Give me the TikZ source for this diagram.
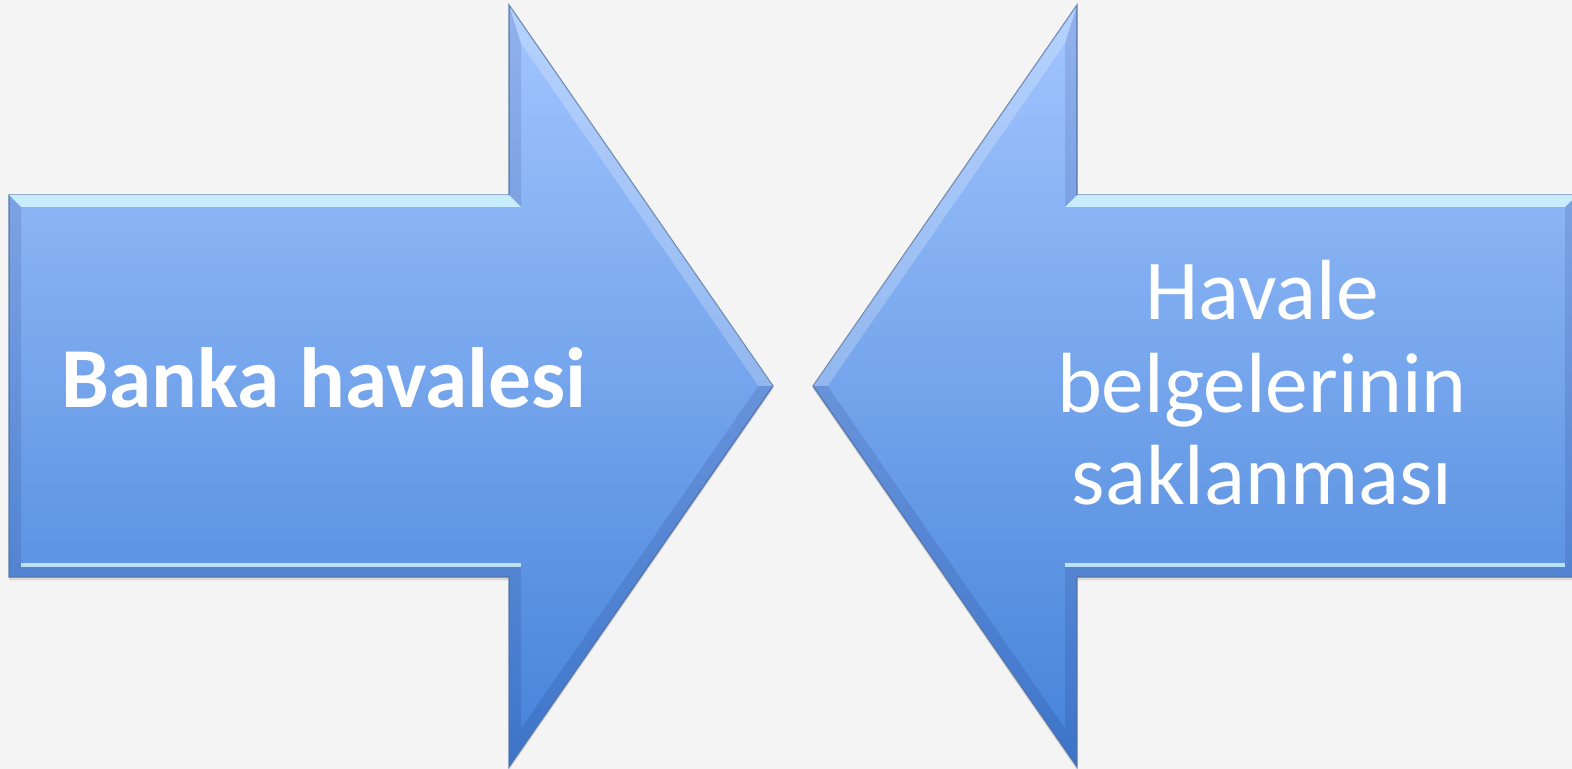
\documentclass[tikz,border=0pt]{standalone}
\usepackage{fontspec}
\setmainfont{Carlito}
\usetikzlibrary{shadows}
\definecolor{pagebg}{HTML}{F4F4F4}
\definecolor{arrowtop}{HTML}{A3C6FF}
\definecolor{arrowbot}{HTML}{4482D8}
\definecolor{arrowrim}{HTML}{5F7FAE}
\definecolor{glint}{HTML}{D4F6FF}
\begin{document}
\begin{tikzpicture}[x=0.5pt, y=-0.5pt,
    face light/.style={fill=glint, fill opacity=0.85},
    face soft/.style={fill=white, fill opacity=0.22},
    face dark/.style={fill=black!70!blue, fill opacity=0.10},
    label text/.style={text=white, inner sep=0pt, font=\fontsize{42.7}{46.25}\selectfont}]
    \useasboundingbox (0,0) rectangle (1572,769);
    \fill[pagebg] (0,0) rectangle (1572,769);
    \clip (0,0) rectangle (1572,769);

    % the right arrow is the left one mirrored
    \foreach \sx/\dx in {1/0, -1/1586} {
      \begin{scope}[shift={(\dx,0)}, xscale=\sx]
        \coordinate (a) at (9,195);   \coordinate (ai) at (21,207);
        \coordinate (b) at (509,195); \coordinate (bi) at (521,207);
        \coordinate (c) at (509,5);   \coordinate (ci) at (521,43.4);
        \coordinate (t) at (773,386); \coordinate (ti) at (758.4,386);
        \coordinate (d) at (509,767); \coordinate (di) at (521,728.6);
        \coordinate (e) at (509,577); \coordinate (ei) at (521,565);
        \coordinate (f) at (9,577);   \coordinate (fi) at (21,565);

        \shade[top color=arrowtop, bottom color=arrowbot, draw=arrowrim, line width=0.6pt,
               drop shadow={shadow xshift=0pt, shadow yshift=-1.5pt, opacity=0.25}]
            (a) -- (b) -- (c) -- (t) -- (d) -- (e) -- (f) -- cycle;

        % bevel
        \fill[face light] (a) -- (b) -- (bi) -- (ai) -- cycle;
        \fill[face dark] (b) -- (c) -- (ci) -- (bi) -- cycle;
        \fill[face soft] (c) -- (t) -- (ti) -- (ci) -- cycle;
        \fill[face dark] (t) -- (d) -- (di) -- (ti) -- cycle;
        \fill[face dark] (d) -- (e) -- (ei) -- (di) -- cycle;
        \fill[face dark] (e) -- (f) -- (fi) -- (ei) -- cycle;
        \fill[face dark] (f) -- (a) -- (ai) -- (fi) -- cycle;
        \draw[glint, line width=1.8pt, opacity=0.8] (fi) -- (ei);
      \end{scope}
    }

    \node[label text, font=\fontsize{42.7}{46.25}\selectfont\bfseries, anchor=base] (wire) at (324,408) {Banka havalesi};
    \node[label text, align=center, anchor=north] (keep) at (1262,260) {Havale\\belgelerinin\\saklanması};
\end{tikzpicture}
\end{document}
